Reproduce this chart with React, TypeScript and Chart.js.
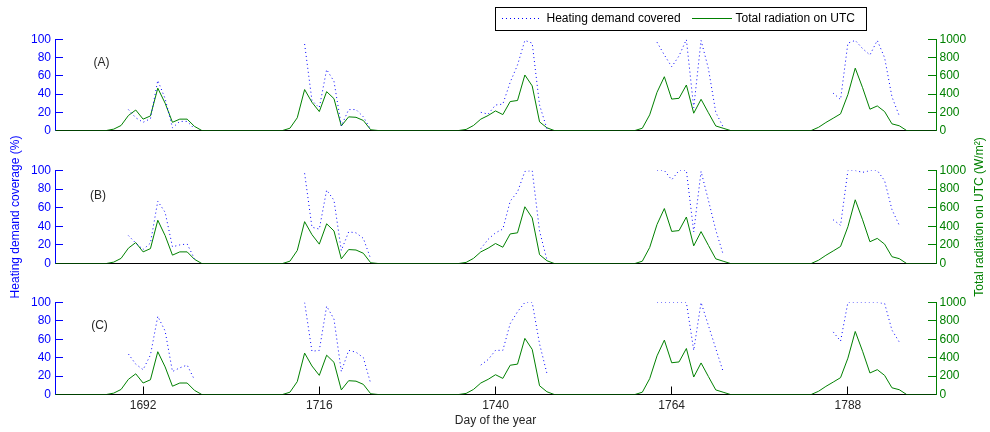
import React, { useEffect, useRef } from "react";
import { Chart, registerables } from "chart.js";

Chart.register(...registerables);

// Hour stamps of the samples: night hours between daylight windows are flat zero radiation.
const hours = [
  1680,
  1687, 1688, 1689, 1690, 1691, 1692, 1693, 1694, 1695, 1696, 1697, 1698, 1699, 1700,
  1711, 1712, 1713, 1714, 1715, 1716, 1717, 1718, 1719, 1720, 1721, 1722, 1723, 1724,
  1735, 1736, 1737, 1738, 1739, 1740, 1741, 1742, 1743, 1744, 1745, 1746, 1747, 1748,
  1759, 1760, 1761, 1762, 1763, 1764, 1765, 1766, 1767, 1768, 1769, 1770, 1771, 1772,
  1783, 1784, 1785, 1786, 1787, 1788, 1789, 1790, 1791, 1792, 1793, 1794, 1795, 1796,
  1800,
];

// Total radiation on the collector (W/m²)
const radiation = [
  0,
  0, 15, 55, 165, 225, 125, 160, 465, 300, 90, 125, 125, 45, 0,
  0, 25, 140, 450, 310, 208, 427, 350, 50, 150, 145, 110, 8, 0,
  0, 12, 55, 125, 165, 215, 175, 318, 330, 610, 490, 95, 30, 0,
  0, 25, 172, 420, 591, 345, 354, 500, 190, 343, 195, 50, 25, 0,
  0, 35, 88, 135, 183, 395, 685, 470, 234, 270, 208, 73, 52, 0,
  0,
];

// Heating demand covered (%), case A
const coverageA = [
  null,
  null, null, null, 23, 14, 9, 13, 55, 35, 3, 10, 10, 2, null,
  null, null, null, 95, 33, 25, 67, 54, 5, 23, 23, 15, 1, null,
  null, null, null, 20, 18, 28, 29, 53, 72, 99, 96, 28, 2, null,
  null, null, null, 97, 83, 70, 82, 100, 25, 99, 68, 20, 4, null,
  null, null, null, 41, 34, 96, 99, 90, 83, 99, 80, 37, 16, null,
  null,
];

// Heating demand covered (%), case B
const coverageB = [
  null,
  null, null, null, 30, 22, 15, 22, 67, 55, 18, 20, 21, 5, null,
  null, null, null, 97, 39, 37, 79, 68, 14, 34, 33, 27, 5, null,
  null, null, null, 16, 26, 33, 37, 67, 77, 99, 100, 35, 4, null,
  null, null, null, 100, 100, 90, 100, 100, 34, 99, 68, 36, 10, null,
  null, null, null, 47, 41, 100, 100, 98, 100, 100, 89, 58, 41, null,
  null,
];

// Heating demand covered (%), case C
const coverageC = [
  null,
  null, null, null, 44, 33, 27, 43, 85, 69, 25, 29, 32, 16, null,
  null, null, null, 100, 47, 48, 96, 82, 25, 48, 46, 40, 12, null,
  null, null, null, 32, 38, 48, 48, 77, 90, 100, 100, 55, 23, null,
  null, null, null, 100, 100, 100, 100, 100, 48, 100, 75, 50, 25, null,
  null, null, null, 68, 58, 100, 100, 100, 100, 100, 99, 70, 57, null,
  null,
];

const coverageSeries = [coverageA, coverageB, coverageC];
const panelNames = ["(A)", "(B)", "(C)"];
const seriesLabels = ["Heating demand covered", "Total radiation on UTC"];

const xTicks = [1692, 1716, 1740, 1764, 1788];
const coverageTicks = [0, 20, 40, 60, 80, 100];
const radiationTicks = [0, 200, 400, 600, 800, 1000];

const xTitle = "Day of the year";
const leftTitle = "Heating demand coverage (%)";
const rightTitle = "Total radiation on UTC (W/m²)";

// Figure geometry
const W = 990;
const H = 432;
const PLOT_LEFT = 55;
const PLOT_RIGHT = 936;
const BLUE = "#0000ff";
const GREEN = "#008000";
const INK = "#262626";
const FONT = "'Liberation Sans', Arial, Helvetica, sans-serif";

const panelLayout = [
  { top: 39.5, bottom: 130.5, tagX: 101.5, tagY: 62.5, showX: false },
  { top: 170.5, bottom: 263.5, tagX: 98, tagY: 196, showX: false },
  { top: 302.5, bottom: 394.5, tagX: 99.5, tagY: 326, showX: true },
];

Chart.defaults.font.family = FONT;
Chart.defaults.font.size = 12;

// Panel letter in the upper left of each plot
const panelTagPlugin = {
  id: "panelTag",
  afterDatasetsDraw(chart: any, _args: any, opts: any) {
    if (!opts || !opts.text) return;
    const ctx = chart.ctx;
    ctx.save();
    ctx.font = `12px ${FONT}`;
    ctx.fillStyle = INK;
    ctx.textAlign = "center";
    ctx.textBaseline = "middle";
    ctx.fillText(opts.text, opts.x, opts.y);
    ctx.restore();
  },
};

// Right-hand axis title, reading bottom to top
const rightTitlePlugin = {
  id: "rightTitle",
  afterDraw(chart: any, _args: any, opts: any) {
    if (!opts || !opts.text) return;
    const { ctx, chartArea } = chart;
    ctx.save();
    ctx.translate(opts.x, (chartArea.top + chartArea.bottom) / 2);
    ctx.rotate(-Math.PI / 2);
    ctx.font = `12px ${FONT}`;
    ctx.fillStyle = opts.color;
    ctx.textAlign = "center";
    ctx.textBaseline = "middle";
    ctx.fillText(opts.text, 0, 0);
    ctx.restore();
  },
};

// Boxed legend above the top panel, built from the dataset styles
const boxedLegendPlugin = {
  id: "boxedLegend",
  afterDraw(chart: any, _args: any, opts: any) {
    if (!opts || !opts.show) return;
    const ctx = chart.ctx;
    const box = { left: 495.5, top: 7.5, right: 866.5, bottom: 30.5 };
    const midY = 18.5;
    const samples = [
      { x0: 502, x1: 542, tx: 546.5 },
      { x0: 692, x1: 732, tx: 735.5 },
    ];
    ctx.save();
    ctx.fillStyle = "#ffffff";
    ctx.fillRect(box.left, box.top, box.right - box.left, box.bottom - box.top);
    ctx.strokeStyle = "#000000";
    ctx.lineWidth = 1;
    ctx.setLineDash([]);
    ctx.strokeRect(box.left, box.top, box.right - box.left, box.bottom - box.top);
    chart.data.datasets.forEach((ds: any, i: number) => {
      const s = samples[i];
      ctx.beginPath();
      ctx.strokeStyle = ds.borderColor;
      ctx.lineWidth = ds.borderWidth || 1;
      ctx.setLineDash(ds.borderDash || []);
      ctx.moveTo(s.x0, midY);
      ctx.lineTo(s.x1, midY);
      ctx.stroke();
      ctx.setLineDash([]);
      ctx.font = `12px ${FONT}`;
      ctx.fillStyle = "#000000";
      ctx.textAlign = "left";
      ctx.textBaseline = "middle";
      ctx.fillText(ds.label, s.tx, midY);
    });
    ctx.restore();
  },
};

function buildConfig(idx: number): any {
  const p = panelLayout[idx];
  const xHeight = p.showX ? H - p.bottom : 0;
  const coverage = coverageSeries[idx];
  return {
    type: "line",
    data: {
      datasets: [
        {
          label: seriesLabels[0],
          data: hours.map((h, i) => ({ x: h, y: coverage[i] })),
          yAxisID: "y",
          borderColor: BLUE,
          borderWidth: 1,
          borderDash: [1, 3],
          pointRadius: 0,
          tension: 0,
          spanGaps: false,
          fill: false,
        },
        {
          label: seriesLabels[1],
          data: hours.map((h, i) => ({ x: h, y: radiation[i] })),
          yAxisID: "y1",
          borderColor: GREEN,
          borderWidth: 1,
          pointRadius: 0,
          tension: 0,
          fill: false,
        },
      ],
    },
    options: {
      responsive: false,
      animation: false,
      events: [],
      layout: {
        padding: { top: p.top, bottom: H - p.bottom - xHeight, left: 0, right: 0 },
      },
      scales: {
        x: {
          type: "linear",
          position: "bottom",
          min: 1680,
          max: 1800,
          afterBuildTicks: (s: any) => {
            s.ticks = xTicks.map((v) => ({ value: v }));
          },
          afterFit: (s: any) => {
            s.height = xHeight;
          },
          border: { display: true, color: "#000000", width: 1 },
          grid: {
            display: p.showX,
            drawOnChartArea: false,
            drawTicks: true,
            tickLength: -8,
            color: "#000000",
          },
          ticks: {
            display: p.showX,
            padding: 12,
            color: INK,
            maxRotation: 0,
            autoSkip: false,
            callback: (v: any) => String(v),
          },
          title: {
            display: p.showX,
            text: xTitle,
            color: INK,
            padding: { top: 0, bottom: 4 },
          },
        },
        y: {
          position: "left",
          min: 0,
          max: 100,
          afterBuildTicks: (s: any) => {
            s.ticks = coverageTicks.map((v) => ({ value: v }));
          },
          afterFit: (s: any) => {
            s.width = PLOT_LEFT;
          },
          border: { display: true, color: BLUE, width: 1 },
          grid: { drawOnChartArea: false, drawTicks: true, tickLength: -8, color: BLUE },
          ticks: { color: BLUE, padding: 12, callback: (v: any) => String(v) },
          title: {
            display: idx === 1,
            text: leftTitle,
            color: BLUE,
            padding: { top: 8.3, bottom: 0 },
          },
        },
        y1: {
          position: "right",
          min: 0,
          max: 1000,
          afterBuildTicks: (s: any) => {
            s.ticks = radiationTicks.map((v) => ({ value: v }));
          },
          afterFit: (s: any) => {
            s.width = W - PLOT_RIGHT;
          },
          border: { display: true, color: GREEN, width: 1 },
          grid: { drawOnChartArea: false, drawTicks: true, tickLength: -8, color: GREEN },
          ticks: { color: GREEN, padding: 11.5, callback: (v: any) => String(v) },
        },
      },
      plugins: {
        legend: { display: false },
        tooltip: { enabled: false },
        panelTag: { text: panelNames[idx], x: p.tagX, y: p.tagY },
        rightTitle: { text: idx === 1 ? rightTitle : "", x: 980, color: GREEN },
        boxedLegend: { show: idx === 0 },
      },
    },
    plugins: [panelTagPlugin, rightTitlePlugin, boxedLegendPlugin],
  };
}

export default function App() {
  const refA = useRef<HTMLCanvasElement>(null);
  const refB = useRef<HTMLCanvasElement>(null);
  const refC = useRef<HTMLCanvasElement>(null);

  useEffect(() => {
    const canvases = [refA.current, refB.current, refC.current];
    const charts = canvases.map((c, i) => new Chart(c as HTMLCanvasElement, buildConfig(i)));
    return () => charts.forEach((ch) => ch.destroy());
  }, []);

  const canvasStyle: React.CSSProperties = { position: "absolute", left: 0, top: 0 };

  return (
    <div
      style={{
        position: "absolute",
        left: 0,
        top: 0,
        width: W,
        height: H,
        background: "#ffffff",
        overflow: "hidden",
      }}
    >
      <canvas ref={refA} width={W} height={H} style={canvasStyle} />
      <canvas ref={refB} width={W} height={H} style={canvasStyle} />
      <canvas ref={refC} width={W} height={H} style={canvasStyle} />
    </div>
  );
}
